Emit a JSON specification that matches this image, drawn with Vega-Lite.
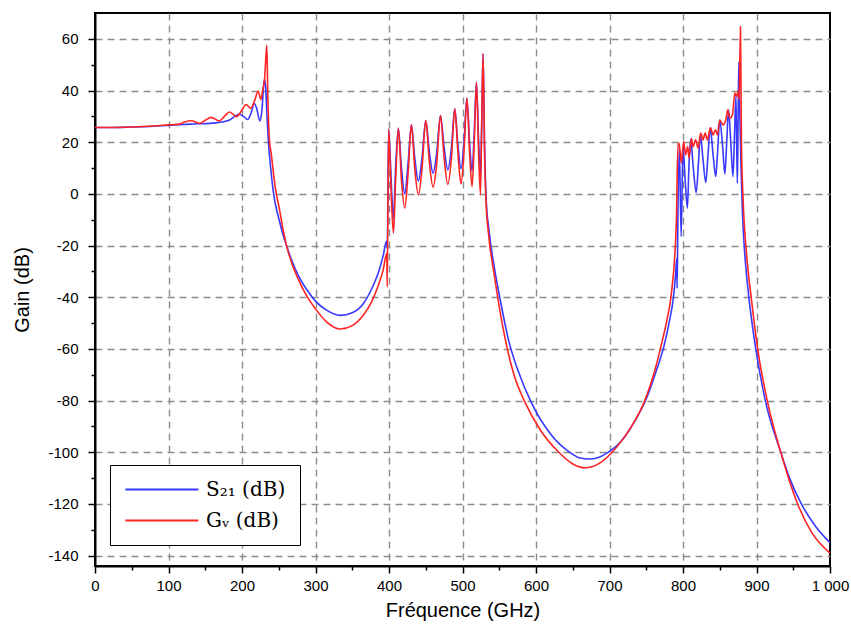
{
  "$schema": "https://vega.github.io/schema/vega-lite/v6.json",
  "width": 735,
  "height": 553,
  "autosize": {"type": "none"},
  "padding": {"left": 95, "top": 13, "right": 21, "bottom": 61},
  "background": "white",
  "config": {
    "view": {"stroke": "black", "strokeWidth": 2},
    "font": "Liberation Sans"
  },
  "data": {"values": [
{"f":0,"g":25.7,"k":"S"},{"f":20,"g":25.7,"k":"S"},{"f":50,"g":25.9,"k":"S"},{"f":80,"g":26.2,"k":"S"},{"f":100,"g":26.5,"k":"S"},{"f":130,"g":27.0,"k":"S"},{"f":160,"g":27.4,"k":"S"},{"f":175,"g":27.9,"k":"S"},{"f":183,"g":28.6,"k":"S"},{"f":190,"g":30.0,"k":"S"},{"f":196,"g":30.8,"k":"S"},{"f":202,"g":30.0,"k":"S"},{"f":207.7,"g":28.8,"k":"S"},{"f":212,"g":31,"k":"S"},{"f":216.8,"g":35.0,"k":"S"},{"f":220,"g":33,"k":"S"},{"f":224.5,"g":28.2,"k":"S"},{"f":227,"g":32,"k":"S"},{"f":230.4,"g":44.2,"k":"S"},{"f":232,"g":42,"k":"S"},{"f":234,"g":30,"k":"S"},{"f":236,"g":20,"k":"S"},{"f":239,"g":10,"k":"S"},{"f":243,"g":0,"k":"S"},{"f":250.5,"g":-10,"k":"S"},{"f":256,"g":-16,"k":"S"},{"f":261,"g":-20.3,"k":"S"},{"f":268,"g":-26,"k":"S"},{"f":276.5,"g":-31.5,"k":"S"},{"f":288,"g":-37,"k":"S"},{"f":300,"g":-41.5,"k":"S"},{"f":315,"g":-45,"k":"S"},{"f":334,"g":-47,"k":"S"},{"f":350,"g":-46,"k":"S"},{"f":365,"g":-42.5,"k":"S"},{"f":376,"g":-37,"k":"S"},{"f":386,"g":-30,"k":"S"},{"f":392,"g":-24,"k":"S"},{"f":396.5,"g":-18.3,"k":"S"},{"f":397.6,"g":-21,"k":"S"},
{"f":399.5,"g":25,"k":"S"},{"f":403,"g":5,"k":"S"},{"f":406,"g":-9.4,"k":"S"},{"f":409,"g":10,"k":"S"},{"f":412.7,"g":25.4,"k":"S"},{"f":417,"g":10,"k":"S"},{"f":421.4,"g":0,"k":"S"},{"f":426,"g":12,"k":"S"},{"f":430.5,"g":26.7,"k":"S"},{"f":435,"g":14,"k":"S"},{"f":440,"g":5,"k":"S"},{"f":445,"g":14,"k":"S"},{"f":450,"g":28.4,"k":"S"},{"f":455,"g":16,"k":"S"},{"f":460,"g":8,"k":"S"},{"f":465,"g":16,"k":"S"},{"f":470,"g":30.3,"k":"S"},{"f":475,"g":18,"k":"S"},{"f":480,"g":9.3,"k":"S"},{"f":485,"g":18,"k":"S"},{"f":489.5,"g":32.9,"k":"S"},{"f":494,"g":18,"k":"S"},{"f":498,"g":9.7,"k":"S"},{"f":502,"g":20,"k":"S"},{"f":506,"g":37,"k":"S"},{"f":510,"g":18,"k":"S"},{"f":513,"g":8.9,"k":"S"},{"f":516,"g":24,"k":"S"},{"f":519,"g":43.2,"k":"S"},{"f":522,"g":20,"k":"S"},{"f":524.5,"g":6.7,"k":"S"},{"f":526,"g":25,"k":"S"},{"f":528,"g":54.2,"k":"S"},{"f":530,"g":20,"k":"S"},{"f":532,"g":-1,"k":"S"},{"f":536,"g":-14,"k":"S"},{"f":543,"g":-28,"k":"S"},{"f":552,"g":-42,"k":"S"},{"f":563,"g":-57,"k":"S"},{"f":575,"g":-68,"k":"S"},{"f":594,"g":-81,"k":"S"},{"f":620,"g":-93,"k":"S"},{"f":646,"g":-100,"k":"S"},{"f":660,"g":-102.2,"k":"S"},{"f":672,"g":-102.6,"k":"S"},{"f":685,"g":-102,"k":"S"},{"f":698,"g":-100,"k":"S"},{"f":715,"g":-96,"k":"S"},{"f":730,"g":-90,"k":"S"},{"f":750.5,"g":-79,"k":"S"},{"f":763,"g":-69,"k":"S"},{"f":774,"g":-59,"k":"S"},{"f":781,"g":-50,"k":"S"},{"f":787,"g":-40,"k":"S"},{"f":790,"g":-31,"k":"S"},{"f":791.5,"g":-25,"k":"S"},{"f":792,"g":-36.5,"k":"S"},
{"f":793,"g":-10,"k":"S"},{"f":795,"g":18,"k":"S"},{"f":797.5,"g":-16.5,"k":"S"},{"f":800,"g":18.3,"k":"S"},{"f":803,"g":5,"k":"S"},{"f":806,"g":-5.5,"k":"S"},{"f":808,"g":10,"k":"S"},{"f":810.5,"g":21,"k":"S"},{"f":814,"g":10,"k":"S"},{"f":818,"g":0.5,"k":"S"},{"f":821,"g":12,"k":"S"},{"f":823.6,"g":22.8,"k":"S"},{"f":827,"g":14,"k":"S"},{"f":831,"g":4.4,"k":"S"},{"f":834,"g":15,"k":"S"},{"f":837,"g":25.4,"k":"S"},{"f":841,"g":15,"k":"S"},{"f":844.5,"g":6.7,"k":"S"},{"f":847,"g":16,"k":"S"},{"f":850,"g":28.6,"k":"S"},{"f":854,"g":18,"k":"S"},{"f":857,"g":7.7,"k":"S"},{"f":859.5,"g":20,"k":"S"},{"f":862,"g":32.5,"k":"S"},{"f":865,"g":20,"k":"S"},{"f":868,"g":6.7,"k":"S"},{"f":870,"g":22,"k":"S"},{"f":872,"g":37.7,"k":"S"},{"f":873,"g":20,"k":"S"},{"f":874,"g":4.1,"k":"S"},{"f":875,"g":30,"k":"S"},{"f":876,"g":51,"k":"S"},{"f":877,"g":35,"k":"S"},{"f":879,"g":10,"k":"S"},{"f":881,"g":-8,"k":"S"},{"f":883,"g":-19,"k":"S"},{"f":886,"g":-30,"k":"S"},{"f":890,"g":-41,"k":"S"},{"f":899,"g":-60,"k":"S"},{"f":912,"g":-80,"k":"S"},{"f":933,"g":-100,"k":"S"},{"f":945,"g":-110,"k":"S"},{"f":961,"g":-120,"k":"S"},{"f":980,"g":-128.5,"k":"S"},{"f":1000,"g":-135,"k":"S"},
{"f":0,"g":25.7,"k":"G"},{"f":20,"g":25.7,"k":"G"},{"f":50,"g":25.9,"k":"G"},{"f":80,"g":26.3,"k":"G"},{"f":100,"g":26.7,"k":"G"},{"f":115,"g":27.0,"k":"G"},{"f":122,"g":27.8,"k":"G"},{"f":131,"g":28.3,"k":"G"},{"f":142,"g":27.3,"k":"G"},{"f":150,"g":28.5,"k":"G"},{"f":158,"g":29.6,"k":"G"},{"f":169,"g":28.2,"k":"G"},{"f":176,"g":30,"k":"G"},{"f":183,"g":31.7,"k":"G"},{"f":192.7,"g":29.9,"k":"G"},{"f":199,"g":32,"k":"G"},{"f":205.4,"g":34.6,"k":"G"},{"f":212,"g":33.1,"k":"G"},{"f":217,"g":36,"k":"G"},{"f":222,"g":39.7,"k":"G"},{"f":225.8,"g":36.5,"k":"G"},{"f":228,"g":40,"k":"G"},{"f":230.6,"g":44,"k":"G"},{"f":233.8,"g":57.5,"k":"G"},{"f":235,"g":40,"k":"G"},{"f":237,"g":22,"k":"G"},{"f":240,"g":15,"k":"G"},{"f":245,"g":3,"k":"G"},{"f":251,"g":-6,"k":"G"},{"f":256,"g":-14,"k":"G"},{"f":261,"g":-20.5,"k":"G"},{"f":268,"g":-27,"k":"G"},{"f":276.5,"g":-33,"k":"G"},{"f":288,"g":-39.5,"k":"G"},{"f":300,"g":-44.5,"k":"G"},{"f":315,"g":-49.5,"k":"G"},{"f":334,"g":-52.3,"k":"G"},{"f":350,"g":-51,"k":"G"},{"f":365,"g":-47,"k":"G"},{"f":376,"g":-42,"k":"G"},{"f":386,"g":-35,"k":"G"},{"f":392,"g":-29.5,"k":"G"},{"f":397,"g":-23,"k":"G"},{"f":397.6,"g":-36,"k":"G"},
{"f":399.5,"g":25,"k":"G"},{"f":403,"g":0,"k":"G"},{"f":406,"g":-15.2,"k":"G"},{"f":409,"g":5,"k":"G"},{"f":412.7,"g":25.4,"k":"G"},{"f":417,"g":5,"k":"G"},{"f":421.4,"g":-5.5,"k":"G"},{"f":426,"g":8,"k":"G"},{"f":430.5,"g":26.7,"k":"G"},{"f":435,"g":10,"k":"G"},{"f":440,"g":-0.4,"k":"G"},{"f":445,"g":10,"k":"G"},{"f":450,"g":28.4,"k":"G"},{"f":455,"g":12,"k":"G"},{"f":460,"g":2.6,"k":"G"},{"f":465,"g":12,"k":"G"},{"f":470,"g":30.3,"k":"G"},{"f":475,"g":14,"k":"G"},{"f":480,"g":3.7,"k":"G"},{"f":485,"g":14,"k":"G"},{"f":489.5,"g":32.9,"k":"G"},{"f":494,"g":15,"k":"G"},{"f":498,"g":3.9,"k":"G"},{"f":502,"g":16,"k":"G"},{"f":506,"g":37,"k":"G"},{"f":510,"g":14,"k":"G"},{"f":513,"g":2.8,"k":"G"},{"f":516,"g":20,"k":"G"},{"f":519,"g":43.2,"k":"G"},{"f":522,"g":15,"k":"G"},{"f":524.5,"g":-0.4,"k":"G"},{"f":526,"g":25,"k":"G"},{"f":528,"g":54.2,"k":"G"},{"f":530,"g":15,"k":"G"},{"f":532,"g":-3,"k":"G"},{"f":536,"g":-17,"k":"G"},{"f":543,"g":-31,"k":"G"},{"f":552,"g":-47,"k":"G"},{"f":558,"g":-56,"k":"G"},{"f":570,"g":-70,"k":"G"},{"f":584,"g":-80,"k":"G"},{"f":605,"g":-91,"k":"G"},{"f":631,"g":-100,"k":"G"},{"f":650,"g":-104.5,"k":"G"},{"f":667,"g":-106,"k":"G"},{"f":685,"g":-104.5,"k":"G"},{"f":703.6,"g":-100,"k":"G"},{"f":718,"g":-95,"k":"G"},{"f":730,"g":-90,"k":"G"},{"f":748,"g":-80,"k":"G"},{"f":760,"g":-70,"k":"G"},{"f":770,"g":-59,"k":"G"},{"f":778,"g":-49,"k":"G"},{"f":784,"g":-39,"k":"G"},{"f":789.6,"g":-20,"k":"G"},{"f":790.9,"g":-11.4,"k":"G"},
{"f":793.2,"g":19.6,"k":"G"},{"f":794.5,"g":19.6,"k":"G"},{"f":796.4,"g":15.7,"k":"G"},{"f":797.7,"g":12,"k":"G"},{"f":800.9,"g":20.3,"k":"G"},{"f":803.6,"g":15.1,"k":"G"},{"f":806.4,"g":18.3,"k":"G"},{"f":808.2,"g":13.8,"k":"G"},{"f":811.4,"g":21.5,"k":"G"},{"f":813.6,"g":18.3,"k":"G"},{"f":817.3,"g":20.9,"k":"G"},{"f":820.5,"g":17.7,"k":"G"},{"f":824.1,"g":23.5,"k":"G"},{"f":827.3,"g":20.9,"k":"G"},{"f":830,"g":23.5,"k":"G"},{"f":833.2,"g":20.9,"k":"G"},{"f":837.3,"g":25.7,"k":"G"},{"f":840.9,"g":22.8,"k":"G"},{"f":844.1,"g":24.8,"k":"G"},{"f":846.8,"g":22.8,"k":"G"},{"f":850,"g":28.6,"k":"G"},{"f":854.5,"g":26.7,"k":"G"},{"f":858.2,"g":28.6,"k":"G"},{"f":860.9,"g":32.5,"k":"G"},{"f":863.6,"g":29.3,"k":"G"},{"f":867.3,"g":30.6,"k":"G"},{"f":870.5,"g":39,"k":"G"},{"f":872.7,"g":37.7,"k":"G"},{"f":875,"g":39.6,"k":"G"},{"f":876.4,"g":36.4,"k":"G"},{"f":878.2,"g":64.8,"k":"G"},{"f":879.5,"g":19.6,"k":"G"},{"f":881.8,"g":-2.3,"k":"G"},{"f":886.4,"g":-23,"k":"G"},{"f":893.2,"g":-41,"k":"G"},{"f":901.6,"g":-60,"k":"G"},{"f":914.6,"g":-80,"k":"G"},{"f":933,"g":-100,"k":"G"},{"f":956,"g":-120,"k":"G"},{"f":975,"g":-131,"k":"G"},{"f":1000,"g":-139,"k":"G"}
  ]},
  "resolve": {"axis": {"x": "independent", "y": "independent"}},
  "layer": [
    {
      "mark": {"type": "line", "strokeWidth": 1.6, "clip": true, "interpolate": "monotone"},
      "encoding": {
        "x": {
          "field": "f", "type": "quantitative",
          "scale": {"domain": [0, 1000], "nice": false, "zero": false},
          "axis": {
            "orient": "bottom",
            "title": "Fréquence (GHz)",
            "titleFontSize": 20, "titleFontWeight": "normal", "titleColor": "black",
            "titleY": 44, "titleBaseline": "middle",
            "values": [0,100,200,300,400,500,600,700,800,900,1000],
            "labelExpr": "datum.value == 1000 ? '1 000' : '' + datum.value",
            "labelFontSize": 15, "labelColor": "black", "labelPadding": 5,
            "labelFlush": false, "labelOverlap": false,
            "domainColor": "black", "domainWidth": 2,
            "tickColor": "black", "tickWidth": 1.5, "tickSize": 7,
            "grid": true, "gridColor": "#8c8c8c", "gridDash": [7, 5], "gridWidth": 1.4,
            "gridOpacity": {"condition": {"test": "datum.value == 0 || datum.value == 1000", "value": 0}, "value": 1}
          }
        },
        "y": {
          "field": "g", "type": "quantitative",
          "scale": {"domain": [-144, 70], "nice": false, "zero": false},
          "axis": {
            "orient": "left",
            "title": "Gain (dB)",
            "titleFontSize": 20, "titleFontWeight": "normal", "titleColor": "black",
            "titleX": -73, "titleBaseline": "middle",
            "values": [-140,-120,-100,-80,-60,-40,-20,0,20,40,60],
            "labelExpr": "'' + datum.value",
            "labelFontSize": 15, "labelColor": "black", "labelPadding": 10,
            "labelOverlap": false,
            "domainColor": "black", "domainWidth": 2,
            "tickColor": "black", "tickWidth": 1.5, "tickSize": 7,
            "grid": true, "gridColor": "#8c8c8c", "gridDash": [7, 5], "gridWidth": 1.4
          }
        },
        "color": {
          "field": "k", "type": "nominal",
          "scale": {"domain": ["S", "G"], "range": ["#3838ff", "#ff2424"]},
          "legend": {
            "title": null,
            "orient": "none", "legendX": 15, "legendY": 452,
            "labelExpr": "datum.value == 'S' ? 'S₂₁ (dB)' : 'Gᵥ (dB)'",
            "labelFont": "DejaVu Serif", "labelFontSize": 20, "labelColor": "black",
            "labelOffset": 61,
            "symbolType": "M-1,0H7", "symbolSize": 333, "symbolStrokeWidth": 2,
            "rowPadding": 10,
            "padding": 14,
            "strokeColor": "black",
            "fillColor": "white"
          }
        },
        "order": {"value": null}
      }
    },
    {
      "mark": {"type": "line", "opacity": 0, "clip": true},
      "encoding": {
        "x": {
          "field": "f", "type": "quantitative",
          "axis": {
            "orient": "bottom", "title": null, "labels": false, "grid": false, "domain": false,
            "values": [50,150,250,350,450,550,650,750,850,950],
            "tickColor": "black", "tickWidth": 1.5, "tickSize": 4
          }
        },
        "y": {
          "field": "g", "type": "quantitative",
          "axis": {
            "orient": "left", "title": null, "labels": false, "grid": false, "domain": false,
            "values": [-130,-110,-90,-70,-50,-30,-10,10,30,50],
            "tickColor": "black", "tickWidth": 1.5, "tickSize": 4
          }
        },
        "detail": {"field": "k", "type": "nominal"},
        "order": {"value": null}
      }
    }
  ]
}
